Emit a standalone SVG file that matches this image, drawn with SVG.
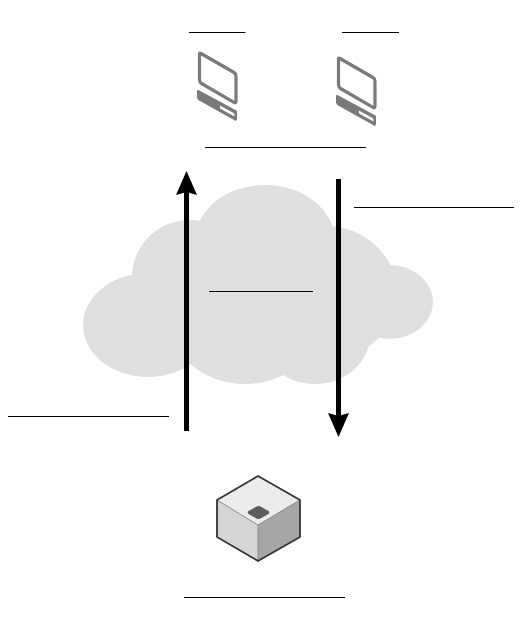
<svg xmlns="http://www.w3.org/2000/svg" width="524" height="617" viewBox="0 0 524 617">
<style>
.lbl{stroke:#000;stroke-width:1.2;fill:none}
.cl{fill:#dfdfdf}
.scr{fill:#fff;stroke:#7a7a7a;stroke-width:3.2;stroke-linejoin:round}
.kb{fill:#7a7a7a;stroke:#7a7a7a;stroke-width:2;stroke-linejoin:round}
.slot{fill:#fff}
.flow{stroke:#000;stroke-width:5;fill:none}
</style>
<defs>
<g id="pc">
<path class="scr" d="M199.500 54 Q199.500 52.500 201 53.500 L234 72.500 Q236 73.700 236 76 L236 101 Q236 103.500 234 102.400 L201.500 83.500 Q199.500 82.300 199.500 80 Z"/>
<path class="kb" d="M198 91 L236 111.500 L236 119 Q236 120 235 119.500 L200 100 Q198 99 198 97 Z"/>
<path class="slot" d="M220 105.500 L233.500 113 Q234.500 113.700 234.500 115 L234.500 116.500 L220 108.500 Z"/>
</g>
</defs>
<g id="cloud">
<ellipse class="cl" cx="148" cy="325" rx="65" ry="52"/>
<ellipse class="cl" cx="265" cy="241" rx="70" ry="56"/>
<ellipse class="cl" cx="190" cy="277" rx="58" ry="57"/>
<ellipse class="cl" cx="325" cy="293" rx="72" ry="67"/>
<ellipse class="cl" cx="389" cy="302" rx="44" ry="37"/>
<ellipse class="cl" cx="245" cy="320" rx="75" ry="64"/>
<ellipse class="cl" cx="315" cy="335" rx="55" ry="49"/>
<rect class="cl" x="180" y="260" width="170" height="80"/>
</g>
<g id="client-1"><use href="#pc"/></g>
<g id="client-2"><use href="#pc" x="139" y="5"/></g>
<g id="server">
<path d="M258 476 L300 500 L258 525 L217 500 Z" fill="#ececec"/>
<path d="M217 500 L258 525 L258 561 L217 537 Z" fill="#d6d6d6"/>
<path d="M300 500 L258 525 L258 561 L300 537 Z" fill="#a6a6a6"/>
<path d="M217 500 L258 525 L300 500 M258 525 L258 561" fill="none" stroke="#8a8a8a" stroke-width="1"/>
<path d="M258 476 L300 500 L300 537 L258 561 L217 537 L217 500 Z" fill="none" stroke="#333" stroke-width="1.800" stroke-linejoin="round"/>
<path d="M256.500 506.500 Q258.500 505.500 260.500 506.500 L268.500 511 Q270 512.500 268.500 514 L260.500 518.500 Q258.500 519.500 256.500 518.500 L248.500 514 Q247 512.500 248.500 511 Z" fill="#5c5c5c"/>
</g>
<g id="connectors">
<path class="flow" d="M186.500 431 L186.500 188"/>
<path d="M186.500 171 L197 195 L186.500 192 L176 195 Z" fill="#000"/>
<path class="flow" d="M338.500 179 L338.500 420"/>
<path d="M338.500 437 L328 413 L338.500 416 L349 413 Z" fill="#000"/>
</g>
<g id="labels">
<path class="lbl" d="M189 32.500 H245.500 M342 32.500 H399 M205 147.500 H366 M354 207.500 H514 M209 291.500 H313 M8 416.500 H169 M184 597.500 H345"/>
</g>
</svg>
